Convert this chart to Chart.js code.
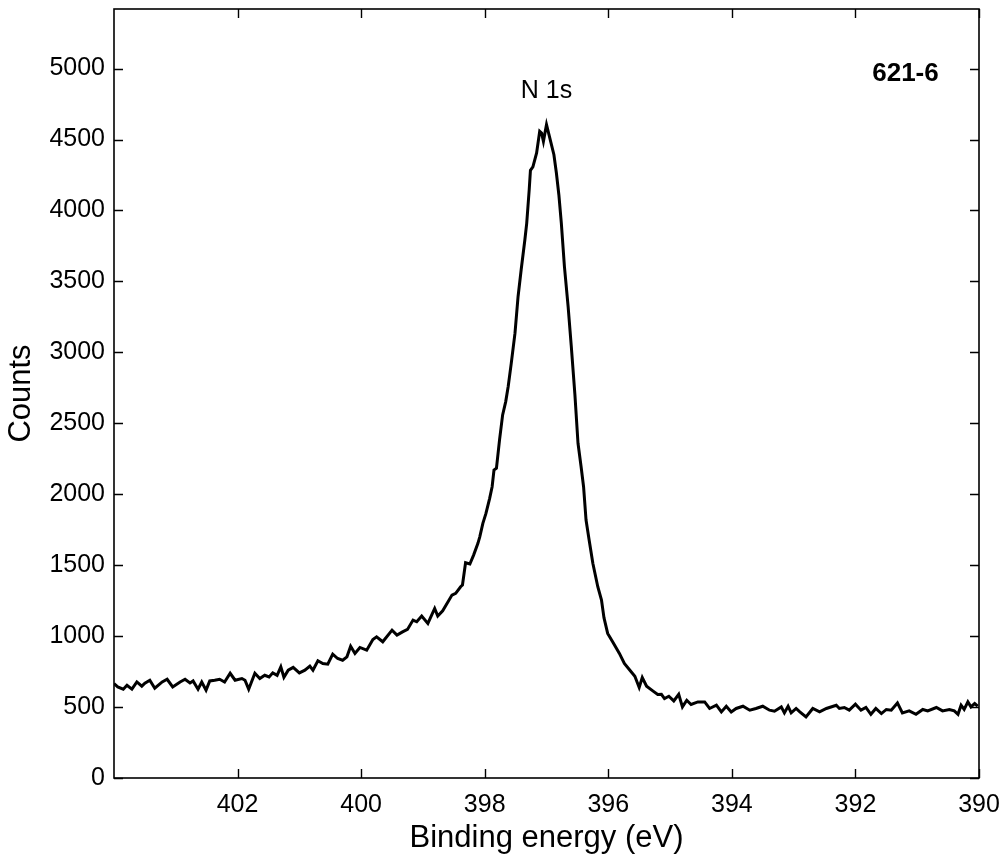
<!DOCTYPE html>
<html>
<head>
<meta charset="utf-8">
<script src="https://cdn.jsdelivr.net/npm/chart.js@4/dist/chart.umd.min.js"></script>
<style>
  html, body { margin: 0; padding: 0; background: #fff; }
  #wrap { width: 1004px; height: 857px; }
</style>
</head>
<body>
<div id="wrap"><canvas id="c" width="1004" height="857"></canvas></div>
<script>
// Binding energy (eV), left to right (high to low)
const energy = [
  404.00,403.94,403.85,403.79,403.71,403.63,403.55,403.50,403.42,403.34,
  403.22,403.14,403.05,402.93,402.85,402.77,402.72,402.64,402.58,402.51,
  402.45,402.37,402.29,402.21,402.12,402.04,401.93,401.88,401.82,401.72,
  401.64,401.56,401.49,401.43,401.36,401.30,401.25,401.18,401.10,401.00,
  400.91,400.83,400.78,400.70,400.62,400.54,400.46,400.38,400.30,400.23,
  400.17,400.10,400.02,399.91,399.81,399.75,399.65,399.50,399.42,399.33,
  399.25,399.16,399.10,399.02,398.92,398.81,398.76,398.68,398.53,398.47,
  398.39,398.36,398.31,398.24,398.18,398.11,398.08,398.03,397.98,397.92,
  397.88,397.85,397.81,397.76,397.71,397.66,397.62,397.57,397.51,397.46,
  397.41,397.35,397.32,397.28,397.26,397.22,397.16,397.11,397.08,397.05,
  397.00,396.96,396.88,396.84,396.80,396.76,396.71,396.65,396.60,396.54,
  396.49,396.44,396.40,396.36,396.31,396.25,396.17,396.11,396.07,396.01,
  395.93,395.82,395.74,395.65,395.57,395.50,395.45,395.38,395.28,395.20,
  395.14,395.09,395.02,394.94,394.86,394.80,394.73,394.66,394.55,394.44,
  394.36,394.25,394.17,394.09,394.01,393.93,393.82,393.71,393.61,393.50,
  393.39,393.31,393.20,393.15,393.09,393.04,392.96,392.90,392.80,392.69,
  392.58,392.47,392.31,392.26,392.18,392.10,392.00,391.91,391.83,391.75,
  391.67,391.58,391.50,391.42,391.32,391.24,391.13,391.02,390.91,390.83,
  390.69,390.59,390.48,390.40,390.34,390.29,390.24,390.18,390.13,390.07,
  390.02
];
// Counts
const counts = [
  666,642,626,654,626,677,647,668,689,633,
  677,696,642,677,696,670,684,626,677,619,
  684,689,696,677,738,689,701,689,626,738,
  701,724,712,741,724,783,710,760,780,741,
  760,788,760,826,807,802,873,842,830,854,
  929,878,920,901,976,995,960,1042,1007,1030,
  1047,1113,1101,1141,1089,1195,1141,1178,1289,1301,
  1348,1360,1517,1508,1571,1654,1700,1795,1865,1971,
  2053,2171,2183,2383,2559,2653,2759,2924,3135,3394,
  3582,3794,3911,4146,4283,4307,4405,4558,4546,4487,
  4605,4534,4393,4264,4111,3911,3605,3323,3050,2700,
  2359,2194,2053,1818,1677,1513,1348,1254,1130,1019,
  960,878,807,760,717,638,708,647,614,588,
  590,560,576,543,590,501,548,518,536,536,
  490,513,466,506,466,490,506,478,490,506,
  478,471,501,459,506,459,490,466,430,490,
  466,490,513,490,497,478,520,478,497,449,
  490,454,483,478,529,459,473,449,483,473,
  497,473,483,473,449,513,483,536,501,525,
  506
];
const xTickValues = [402, 400, 398, 396, 394, 392, 390];
const yTickValues = [0, 500, 1000, 1500, 2000, 2500, 3000, 3500, 4000, 4500, 5000];
const xRange = [390, 404];
const yRange = [0, 5420];
const peakLabel = { text: 'N 1s', x: 397.0, y: 4838 };
const sampleLabel = { text: '621-6', x: 391.19, y: 4960 };

const FONT = '"Liberation Sans", Arial, Helvetica, sans-serif';

const framePlugin = {
  id: 'frame',
  afterDraw(chart) {
    const { ctx, chartArea: a, scales } = chart;
    const xs = scales.x, ys = scales.y;
    ctx.save();
    ctx.strokeStyle = '#000';
    ctx.lineWidth = 1.6;
    ctx.strokeRect(a.left, a.top, a.right - a.left, a.bottom - a.top);
    ctx.lineWidth = 1.4;
    const tl = 9;
    ctx.beginPath();
    xTickValues.forEach(v => {
      const px = Math.round(xs.getPixelForValue(v)) + 0.5;
      ctx.moveTo(px, a.bottom); ctx.lineTo(px, a.bottom - tl);
      ctx.moveTo(px, a.top); ctx.lineTo(px, a.top + tl);
    });
    yTickValues.forEach(v => {
      const py = Math.round(ys.getPixelForValue(v)) + 0.5;
      ctx.moveTo(a.left, py); ctx.lineTo(a.left + tl, py);
      ctx.moveTo(a.right, py); ctx.lineTo(a.right - tl, py);
    });
    ctx.stroke();
    ctx.fillStyle = '#000';
    ctx.textBaseline = 'middle';
    ctx.textAlign = 'center';
    ctx.font = '25px ' + FONT;
    ctx.fillText(peakLabel.text, xs.getPixelForValue(peakLabel.x), ys.getPixelForValue(peakLabel.y));
    ctx.font = 'bold 26px ' + FONT;
    ctx.fillText(sampleLabel.text, xs.getPixelForValue(sampleLabel.x), ys.getPixelForValue(sampleLabel.y));
    ctx.restore();
  }
};

new Chart(document.getElementById('c'), {
  type: 'line',
  data: {
    datasets: [{
      data: energy.map((e, i) => ({ x: e, y: counts[i] })),
      borderColor: '#000',
      borderWidth: 3,
      pointRadius: 0,
      tension: 0,
      fill: false
    }]
  },
  options: {
    responsive: false,
    animation: false,
    events: [],
    layout: { padding: { top: 9, right: 25, left: 0, bottom: 0 } },
    plugins: { legend: { display: false }, tooltip: { enabled: false } },
    scales: {
      x: {
        type: 'linear',
        reverse: true,
        min: xRange[0], max: xRange[1],
        afterBuildTicks: s => { s.ticks = xTickValues.map(v => ({ value: v })); },
        afterFit: s => { s.height = 79; s.paddingLeft = 0; s.paddingRight = 0; },
        grid: { display: false, drawTicks: false },
        border: { display: false },
        ticks: { color: '#000', font: { family: FONT, size: 25 }, padding: 12, maxRotation: 0, autoSkip: false, callback: v => String(v) },
        title: { display: true, text: 'Binding energy (eV)', color: '#000', font: { family: FONT, size: 31 }, padding: { top: 0, bottom: 0 } }
      },
      y: {
        type: 'linear',
        min: yRange[0], max: yRange[1],
        afterBuildTicks: s => { s.ticks = yTickValues.map(v => ({ value: v })); },
        afterFit: s => { s.width = 114; s.paddingTop = 0; s.paddingBottom = 0; },
        grid: { display: false, drawTicks: false },
        border: { display: false },
        ticks: { color: '#000', font: { family: FONT, size: 25 }, padding: 9, autoSkip: false, callback: v => String(v) },
        title: { display: true, text: 'Counts', color: '#000', font: { family: FONT, size: 31 }, padding: { top: 3, bottom: 0 } }
      }
    }
  },
  plugins: [framePlugin]
});
</script>
</body>
</html>
